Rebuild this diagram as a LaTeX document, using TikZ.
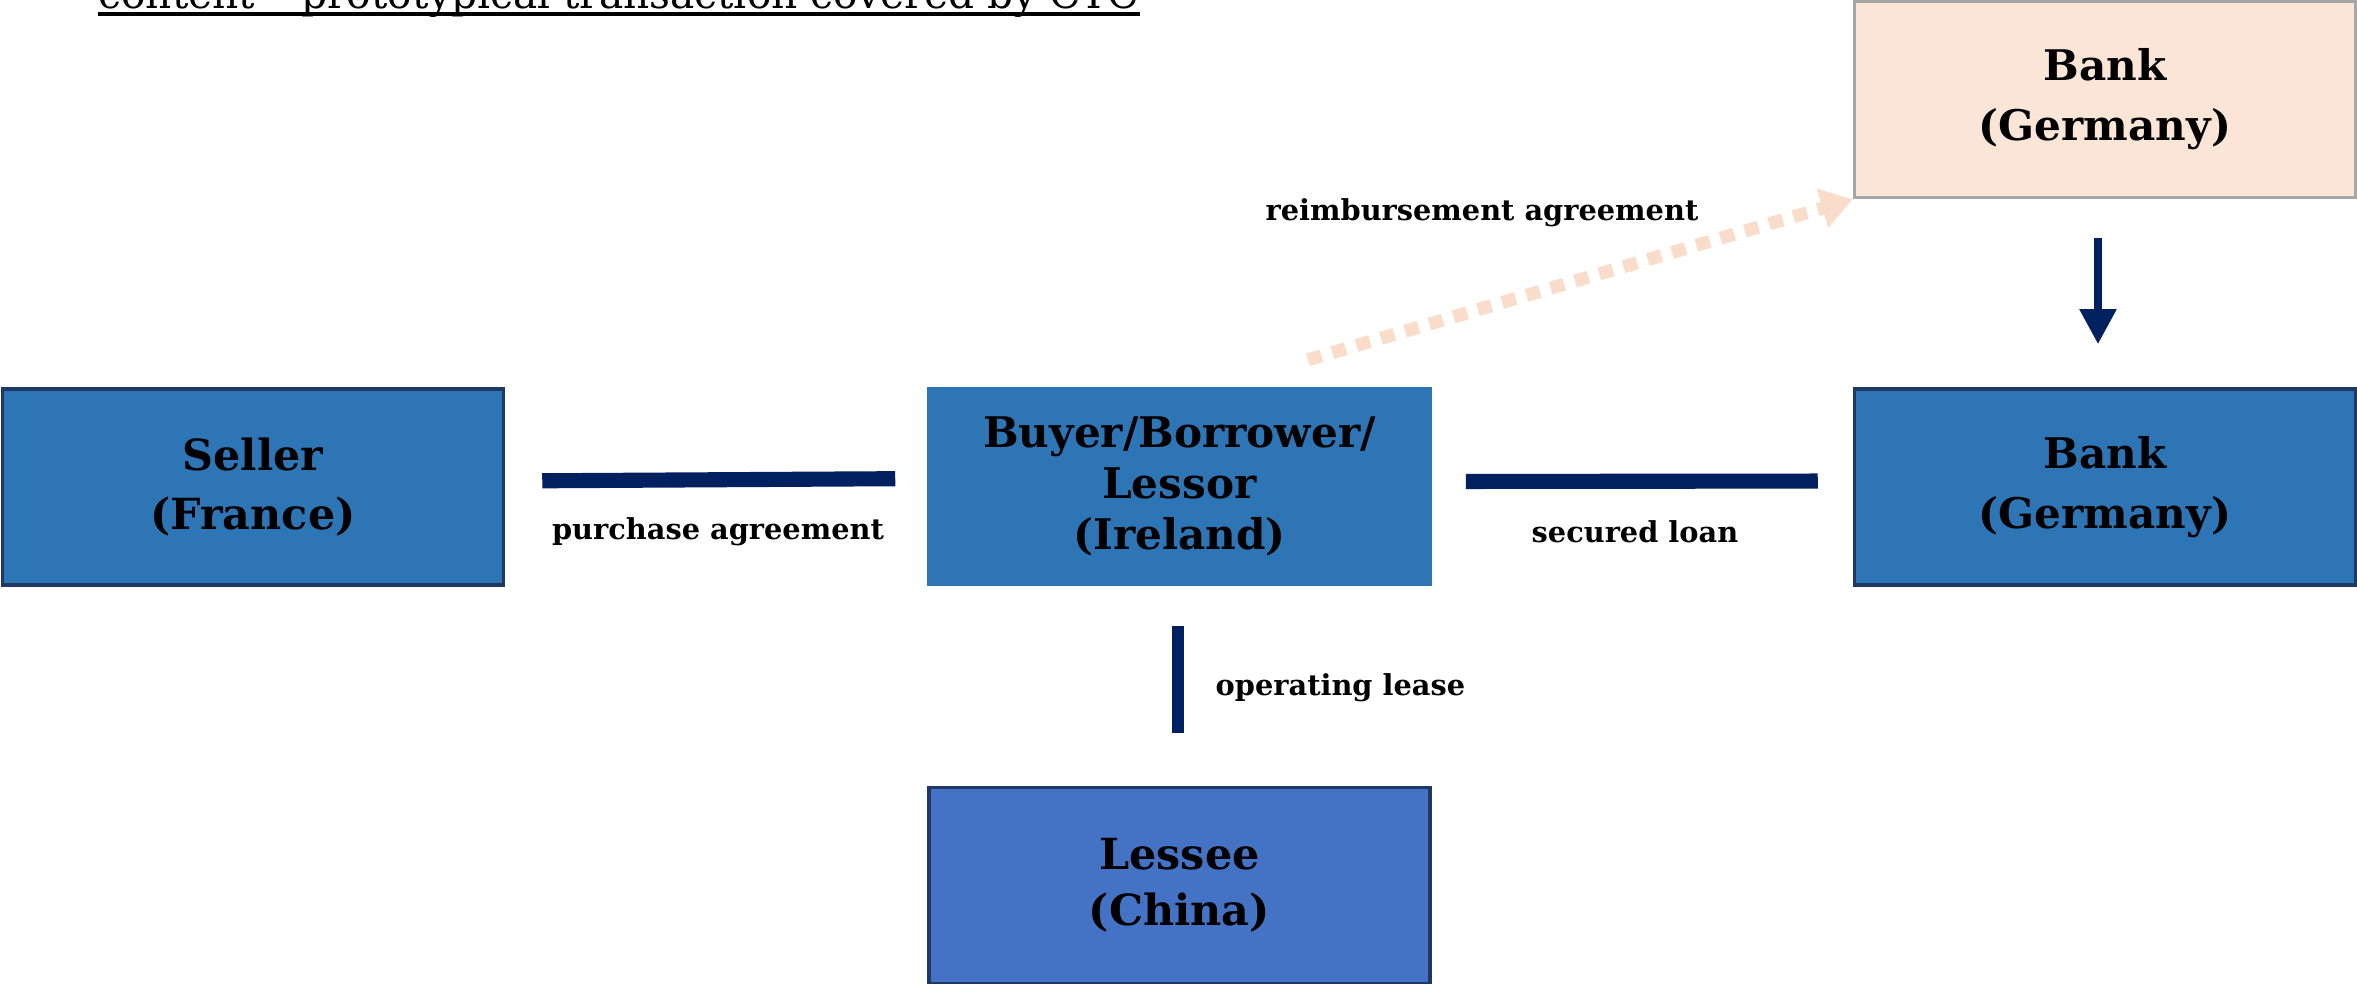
\documentclass[tikz,border=0pt]{standalone}
\usepackage{fontspec}
\usepackage{graphicx}
\setmainfont{DejaVu Serif}
\usetikzlibrary{arrows.meta}
\definecolor{boxblue}{HTML}{2E75B6}
\definecolor{lesseeblue}{HTML}{4472C4}
\definecolor{navy}{HTML}{002060}
\definecolor{edgenavy}{HTML}{1F3864}
\definecolor{peach}{HTML}{FBE5D6}
\definecolor{peachline}{HTML}{F9DCC9}
\definecolor{peachedge}{HTML}{A6A6A6}
\tikzset{
  party/.style={rectangle, inner sep=0pt, minimum width=5.01cm, minimum height=1.96cm,
    align=center, line width=1pt},
  bluebox/.style={party, fill=boxblue, draw=edgenavy},
  relation/.style={draw=navy, line width=4.3pt},
  rlabel/.style={font=\fontsize{8.2}{10}\selectfont\bfseries, inner sep=0pt},
}
\begin{document}
\begin{tikzpicture}
\useasboundingbox (0,0) rectangle (23.57,-9.84);
\clip (0,0) rectangle (23.57,-9.84);
\fill[white] (0,0) rectangle (23.57,-9.84);

% title (cut off at the top, as in the reference)
\node[anchor=base west, inner sep=0pt] (title) at (0.98,-0.08)
  {\resizebox{10.4cm}{!}{content – prototypical transaction covered by CTC}};
\draw[line width=1pt] ([yshift=-0.06cm]title.base west) -- ([yshift=-0.06cm]title.base east);

% boxes
\node[bluebox, font=\fontsize{12.2}{17}\selectfont\bfseries] (seller) at (2.53,-4.87) {Seller\\(France)};
\node[party, fill=boxblue, draw=boxblue, font=\fontsize{12}{14.5}\selectfont\bfseries] (buyer) at (11.795,-4.865) {Buyer/Borrower/\\Lessor\\(Ireland)};
\node[bluebox, font=\fontsize{12}{17}\selectfont\bfseries] (bankM) at (21.05,-4.87) {Bank\\(Germany)};
\node[party, fill=peach, draw=peachedge, font=\fontsize{12}{17}\selectfont\bfseries] (bankT) at (21.05,-0.995) {Bank\\(Germany)};
\node[party, fill=lesseeblue, draw=edgenavy, font=\fontsize{12.2}{16}\selectfont\bfseries] (lessee) at (11.795,-8.855) {Lessee\\(China)};

% connectors
\draw[relation, shorten <=0.37cm, shorten >=0.32cm]
  ([yshift=0.06cm]seller.east) -- ([yshift=0.08cm]buyer.west);
\draw[relation, shorten <=0.34cm, shorten >=0.35cm]
  ([yshift=0.05cm]buyer.east) -- ([yshift=0.06cm]bankM.west);
\draw[draw=navy, line width=3.2pt, shorten <=0.40cm, shorten >=0.53cm]
  ([xshift=-0.015cm]buyer.south) -- ([xshift=-0.015cm]lessee.north);
\draw[draw=navy, line width=2.3pt, -{Triangle[width=10pt,length=10pt]}, shorten <=0.39cm, shorten >=0.43cm]
  ([xshift=-0.07cm]bankT.south) -- ([xshift=-0.07cm]bankM.north);
\coordinate (rstart) at ([xshift=1.285cm, yshift=0.27cm]buyer.north);
\draw[draw=peachline, line width=3.7pt, dash pattern=on 4pt off 3.2pt,
  -{Triangle[width=11pt,length=9pt]}]
  (rstart) -- (bankT.south west);

% labels
\node[rlabel] (lpurchase) at (7.18,-5.32) {purchase agreement};
\node[rlabel] (lsecured) at (16.35,-5.32) {secured loan};
\node[rlabel, anchor=west] (llease) at (12.15,-6.88) {operating lease};
\node[rlabel] (lreimb) at (14.82,-2.13) {reimbursement agreement};
\end{tikzpicture}
\end{document}
